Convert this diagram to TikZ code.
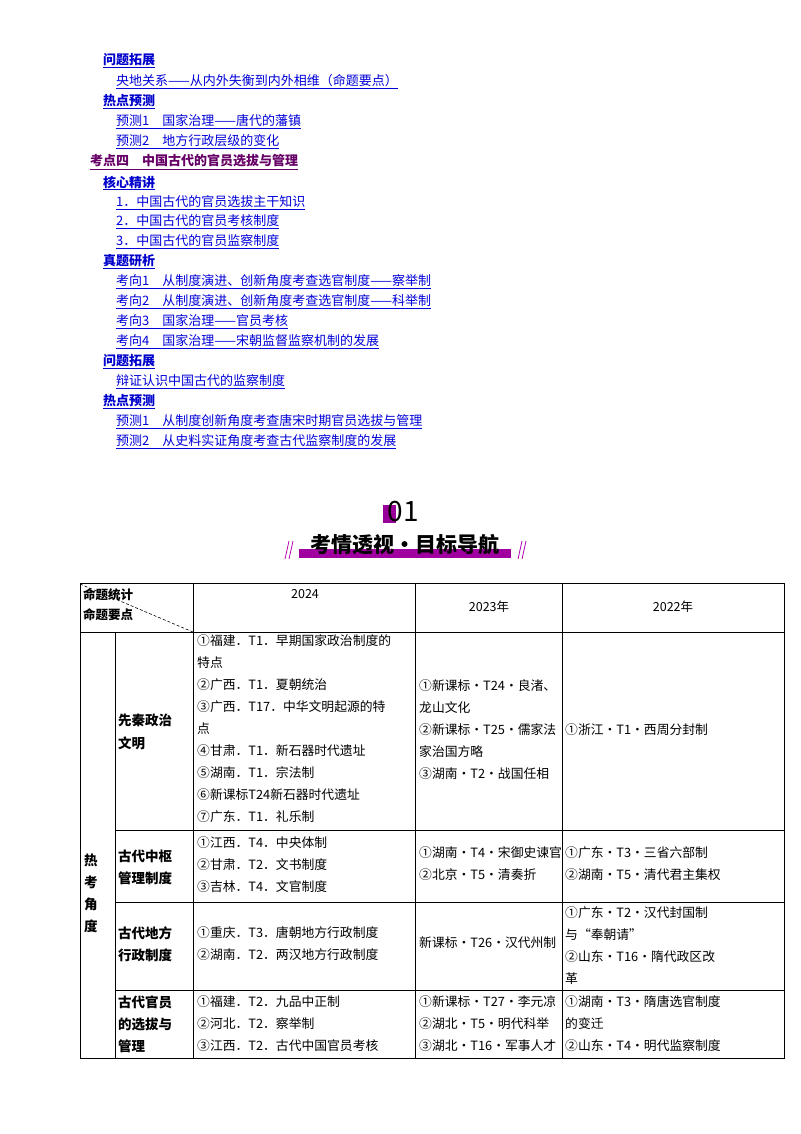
\documentclass[tikz,border=0pt]{standalone}
\usepackage{fontspec}
\setmainfont{Noto Sans CJK SC}
\begin{document}
\begin{tikzpicture}[x=1pt,y=-1pt,
  lnk/.style={anchor=west,inner sep=0pt,text=blue!85!black,font=\fontsize{13}{13}\selectfont},
  hd/.style={anchor=west,inner sep=0pt,text=blue!80!black,font=\fontsize{13}{13}\selectfont\bfseries},
  cell/.style={anchor=west,inner sep=0pt,font=\fontsize{12.8}{13}\selectfont},
  cellb/.style={anchor=west,inner sep=0pt,font=\fontsize{13.5}{14}\selectfont\bfseries},
  grid/.style={line width=0.8pt}]
\useasboundingbox (0,0) rectangle (800,1134);
\fill[white] (0,0) rectangle (800,1134);
% top links
\node[hd] (h1) at (103,61) {\underline{问题拓展}};
\node[lnk] (l1) at (116,82) {\underline{央地关系——从内外失衡到内外相维（命题要点）}};
\node[hd] (h2) at (103,102) {\underline{热点预测}};
\node[lnk] (l2) at (116,122) {\underline{预测1\quad 国家治理——唐代的藩镇}};
\node[lnk] (l3) at (116,142) {\underline{预测2\quad 地方行政层级的变化}};
\node[hd,text=violet!80!black] (k4) at (90,162) {\underline{考点四\quad 中国古代的官员选拔与管理}};
\node[hd] (h3) at (103,183) {\underline{核心精讲}};
\node[lnk] (l4) at (116,203) {\underline{1．中国古代的官员选拔主干知识}};
\node[lnk] (l5) at (116,222) {\underline{2．中国古代的官员考核制度}};
\node[lnk] (l6) at (116,242) {\underline{3．中国古代的官员监察制度}};
\node[hd] (h4) at (103,262) {\underline{真题研析}};
\node[lnk] (l7) at (116,282) {\underline{考向1\quad 从制度演进、创新角度考查选官制度——察举制}};
\node[lnk] (l8) at (116,302) {\underline{考向2\quad 从制度演进、创新角度考查选官制度——科举制}};
\node[lnk] (l9) at (116,322) {\underline{考向3\quad 国家治理——官员考核}};
\node[lnk] (l10) at (116,342) {\underline{考向4\quad 国家治理——宋朝监督监察机制的发展}};
\node[hd] (h5) at (103,362) {\underline{问题拓展}};
\node[lnk] (l11) at (116,382) {\underline{辩证认识中国古代的监察制度}};
\node[hd] (h6) at (103,402) {\underline{热点预测}};
\node[lnk] (l12) at (116,422) {\underline{预测1\quad 从制度创新角度考查唐宋时期官员选拔与管理}};
\node[lnk] (l13) at (116,442) {\underline{预测2\quad 从史料实证角度考查古代监察制度的发展}};
% banner
\fill[violet!80!magenta] (383,505) rectangle (396,523);
\node[inner sep=0pt,font=\fontsize{28}{28}\selectfont] (n01) at (403,512) {01};
\fill[violet!75!magenta] (299,549) rectangle (511,558);
\node[inner sep=0pt,font=\fontsize{21}{21}\selectfont\bfseries] (ttl) at (405,545) {考情透视·目标导航};
\draw[violet!60!magenta,line width=0.8pt] (285,559)--(289,541) (289,559)--(293,541) (518,559)--(522,541) (522,559)--(526,541);
% table grid
\draw[grid] (80,583) rectangle (784,1058);
\draw[grid] (80,632)--(784,632);
\draw[grid] (193,583)--(193,1058) (415,583)--(415,1058) (562,583)--(562,1058);
\draw[grid] (115,632)--(115,1058);
\draw[grid] (115,830)--(784,830) (115,902)--(784,902) (115,990)--(784,990);
\draw[densely dashed,line width=0.6pt] (80,584)--(193,632);
% header
\node[cellb,font=\fontsize{12.5}{13}\selectfont\bfseries] (c0a) at (83,595) {命题统计};
\node[cellb,font=\fontsize{12.5}{13}\selectfont\bfseries] (c0b) at (83,615) {命题要点};
\node[inner sep=0pt,font=\fontsize{12.5}{13}\selectfont] (y24) at (305,594) {2024};
\node[inner sep=0pt,font=\fontsize{12.5}{13}\selectfont] (y23) at (489,607) {2023年};
\node[inner sep=0pt,font=\fontsize{12.5}{13}\selectfont] (y22) at (673,607) {2022年};
% side
\node[cellb] (r1) at (84,860) {热};
\node[cellb] (r2) at (84,882) {考};
\node[cellb] (r3) at (84,904) {角};
\node[cellb] (r4) at (84,926) {度};
% row 1
\node[cellb] (a1) at (118,720) {先秦政治};
\node[cellb] (a2) at (118,743) {文明};
\foreach \t [count=\i] in {①福建．T1．早期国家政治制度的,特点,②广西．T1．夏朝统治,③广西．T17．中华文明起源的特,点,④甘肃．T1．新石器时代遗址,⑤湖南．T1．宗法制,⑥新课标T24新石器时代遗址,⑦广东．T1．礼乐制}
  \node[cell] (p\i) at (197,619+22*\i) {\t};
\foreach \t [count=\i] in {①新课标·T24·良渚、,龙山文化,②新课标·T25·儒家法,家治国方略,③湖南·T2·战国任相}
  \node[cell] (q\i) at (419,664+22*\i) {\t};
\node[cell] (s1) at (565,730) {①浙江·T1·西周分封制};
% row 2
\node[cellb] (b1) at (118,856) {古代中枢};
\node[cellb] (b2) at (118,878) {管理制度};
\node[cell] (p21) at (197,843) {①江西．T4．中央体制};
\node[cell] (p22) at (197,865) {②甘肃．T2．文书制度};
\node[cell] (p23) at (197,887) {③吉林．T4．文官制度};
\node[cell] (q21) at (419,853) {①湖南·T4·宋御史谏官};
\node[cell] (q22) at (419,875) {②北京·T5·清奏折};
\node[cell] (s21) at (565,853) {①广东·T3·三省六部制};
\node[cell] (s22) at (565,875) {②湖南·T5·清代君主集权};
% row 3
\node[cellb] (c1) at (118,933) {古代地方};
\node[cellb] (c2) at (118,955) {行政制度};
\node[cell] (p31) at (197,933) {①重庆．T3．唐朝地方行政制度};
\node[cell] (p32) at (197,955) {②湖南．T2．两汉地方行政制度};
\node[cell] (q31) at (419,943) {新课标·T26·汉代州制};
\node[cell] (s31) at (565,913) {①广东·T2·汉代封国制};
\node[cell] (s32) at (565,935) {与“奉朝请”};
\node[cell] (s33) at (565,957) {②山东·T16·隋代政区改};
\node[cell] (s34) at (565,979) {革};
% row 4
\node[cellb] (d1) at (118,1002) {古代官员};
\node[cellb] (d2) at (118,1024) {的选拔与};
\node[cellb] (d3) at (118,1046) {管理};
\node[cell] (p41) at (197,1002) {①福建．T2．九品中正制};
\node[cell] (p42) at (197,1024) {②河北．T2．察举制};
\node[cell] (p43) at (197,1046) {③江西．T2．古代中国官员考核};
\node[cell] (q41) at (419,1002) {①新课标·T27·李元凉};
\node[cell] (q42) at (419,1024) {②湖北·T5·明代科举};
\node[cell] (q43) at (419,1046) {③湖北·T16·军事人才};
\node[cell] (s41) at (565,1002) {①湖南·T3·隋唐选官制度};
\node[cell] (s42) at (565,1024) {的变迁};
\node[cell] (s43) at (565,1046) {②山东·T4·明代监察制度};
\end{tikzpicture}
\end{document}
